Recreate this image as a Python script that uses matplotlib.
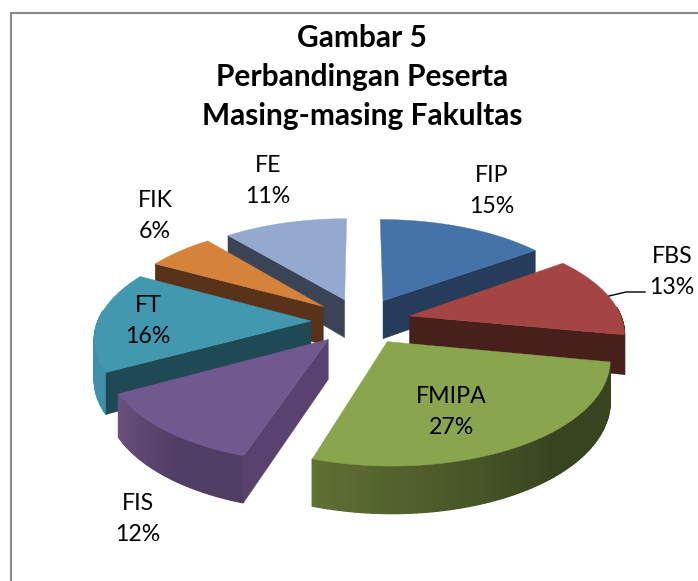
"""Gambar 5: pie 3D terpisah (exploded) digambar dengan polygon di koordinat piksel."""
import numpy as np
import matplotlib
matplotlib.use("Agg")
import matplotlib.pyplot as plt
from matplotlib.colors import to_rgb
from matplotlib.patches import Polygon

plt.rcParams["font.family"] = ["Lato", "DejaVu Sans"]

labels = ["FIP", "FBS", "FMIPA", "FIS", "FT", "FIK", "FE"]
values = [15, 13, 27, 12, 16, 6, 11]
top_colors = ["#4572a7", "#a54543", "#89a54e", "#71588f", "#4198af", "#d5823b", "#93a9cf"]
cut_colors = ["#253c5a", "#47201c", "#384420", "#5a4270", "#1f4a55", "#58331a", "#3b4356"]
wall_start = ["#253c5a", "#47201c", "#384420", "#503d64", "#3f90a8", "#58331a", "#3b4356"]
wall_end = ["#253c5a", "#4a1f1c", "#5f7033", "#6a5080", "#3a8ca3", "#7a4a22", "#3b4356"]
label_xy = [(492, 191), (672, 272), (451, 412), (138, 519), (148, 321), (155, 216), (268, 181)]
title_lines = ["Gambar 5", "Perbandingan Peserta", "Masing-masing Fakultas"]
title_baselines = [47, 86, 125]

# geometri pie (piksel)
CX, CY = 361, 321
R = 213
EXPLODE = 50
TILT = 0.465
PERSP = 0.0007
DEPTH = 39


def project(wx, wy, z=0.0):
    s = 1.0 / (1.0 + PERSP * wy)
    return CX + wx * s, CY - TILT * wy * s + z * s


fig = plt.figure(figsize=(6.98, 5.81), dpi=100)
ax = fig.add_axes([0, 0, 1, 1])
ax.set_xlim(0, 698)
ax.set_ylim(581, 0)
ax.axis("off")

# bingkai (hanya kiri dan atas yang terlihat)
ax.plot([11, 11, 698], [581, 13, 13], color="#888888", lw=1.5, solid_joinstyle="miter")

# sudut slice, dihitung searah jarum jam dari atas
fracs = np.array(values, dtype=float) / sum(values) * 2 * np.pi
ends = np.cumsum(fracs)
starts = ends - fracs
mids = (starts + ends) / 2
order = np.argsort(-np.cos(mids))  # belakang ke depan

for i in order:
    th = np.linspace(starts[i], ends[i], 80)
    ox, oy = EXPLODE * np.sin(mids[i]), EXPLODE * np.cos(mids[i])
    wx, wy = ox + R * np.sin(th), oy + R * np.cos(th)

    arc_top = project(wx, wy)
    arc_bot = project(wx, wy, DEPTH)
    apex_top = project(ox, oy)
    apex_bot = project(ox, oy, DEPTH)

    # dinding luar dengan gradasi, bagian belakang tidak terlihat
    c0, c1 = np.array(to_rgb(wall_start[i])), np.array(to_rgb(wall_end[i]))
    for j in range(len(th) - 1):
        if np.cos(th[j]) > 0.1:
            continue
        t = np.clip((j / (len(th) - 2) - 0.4) / 0.6, 0, 1)
        col = c0 + (c1 - c0) * t
        quad = [(arc_top[0][j], arc_top[1][j]), (arc_top[0][j + 1], arc_top[1][j + 1]),
                (arc_bot[0][j + 1], arc_bot[1][j + 1]), (arc_bot[0][j], arc_bot[1][j])]
        ax.add_patch(Polygon(quad, closed=True, fc=col, ec=col, lw=1.0))

    # sisi potongan yang menghadap ke depan saja
    for k, visible in ((0, np.sin(starts[i]) < -1e-6), (-1, np.sin(ends[i]) > 1e-6)):
        if visible:
            quad = [apex_top, (arc_top[0][k], arc_top[1][k]), (arc_bot[0][k], arc_bot[1][k]), apex_bot]
            ax.add_patch(Polygon(quad, closed=True, fc=cut_colors[i], ec=cut_colors[i], lw=0.3))

    # permukaan atas
    pts = np.column_stack([np.r_[apex_top[0], arc_top[0]], np.r_[apex_top[1], arc_top[1]]])
    ax.add_patch(Polygon(pts, closed=True, fc=top_colors[i], ec=top_colors[i], lw=0.3))

# garis penunjuk FBS
ax.plot([609, 626, 645], [296, 292, 292], color="black", lw=1.0)

for name, val, (x, y) in zip(labels, values, label_xy):
    ax.text(x, y, f"{name}\n{val}%", ha="center", va="center", fontsize=16.7,
            color="black", linespacing=1.6)

for line, y in zip(title_lines, title_baselines):
    ax.text(362, y, line, ha="center", va="baseline", fontsize=21.5, fontweight="bold", color="black")

fig.savefig("out.png", dpi=100)
plt.close(fig)
